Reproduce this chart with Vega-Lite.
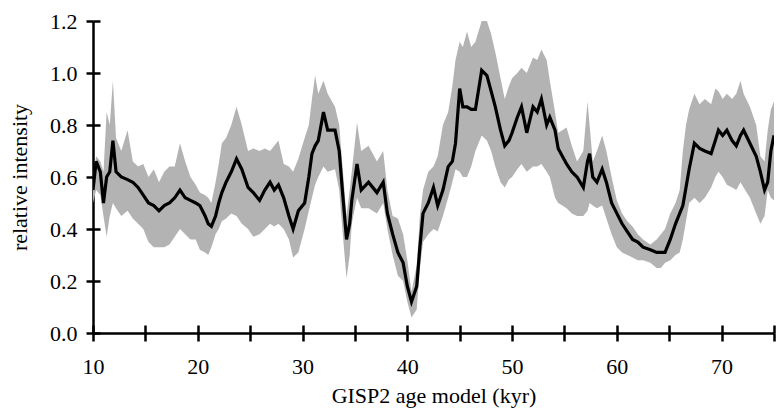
{
  "$schema": "https://vega.github.io/schema/vega-lite/v6.json",
  "width": 681,
  "height": 312,
  "autosize": "none",
  "padding": {"left": 93, "top": 21, "right": 3, "bottom": 76},
  "background": "white",
  "config": {
    "view": {"stroke": null},
    "font": "Liberation Serif",
    "axis": {
      "domainColor": "black", "domainWidth": 2.5, "tickColor": "black", "tickWidth": 2.5,
      "labelFont": "Liberation Serif", "titleFont": "Liberation Serif",
      "labelColor": "black", "titleColor": "black", "grid": false
    }
  },
  "resolve": {"axis": {"x": "independent", "y": "independent"}},
  "data": {"values": [
    {"x":10.0,"y":0.55,"lo":0.50,"hi":0.60},
    {"x":10.3,"y":0.66,"lo":0.55,"hi":0.68},
    {"x":10.7,"y":0.62,"lo":0.53,"hi":0.66},
    {"x":11.0,"y":0.50,"lo":0.45,"hi":0.62},
    {"x":11.3,"y":0.60,"lo":0.37,"hi":0.85},
    {"x":11.6,"y":0.62,"lo":0.45,"hi":0.80},
    {"x":11.9,"y":0.74,"lo":0.50,"hi":0.97},
    {"x":12.2,"y":0.62,"lo":0.48,"hi":0.75},
    {"x":12.7,"y":0.60,"lo":0.45,"hi":0.70},
    {"x":13.3,"y":0.59,"lo":0.47,"hi":0.78},
    {"x":13.8,"y":0.58,"lo":0.44,"hi":0.66},
    {"x":14.3,"y":0.56,"lo":0.42,"hi":0.64},
    {"x":14.8,"y":0.53,"lo":0.40,"hi":0.65},
    {"x":15.3,"y":0.50,"lo":0.35,"hi":0.60},
    {"x":15.8,"y":0.49,"lo":0.33,"hi":0.63},
    {"x":16.3,"y":0.47,"lo":0.33,"hi":0.58},
    {"x":16.8,"y":0.49,"lo":0.33,"hi":0.62},
    {"x":17.3,"y":0.50,"lo":0.34,"hi":0.64},
    {"x":17.8,"y":0.52,"lo":0.37,"hi":0.64},
    {"x":18.3,"y":0.55,"lo":0.40,"hi":0.73},
    {"x":18.8,"y":0.52,"lo":0.38,"hi":0.66},
    {"x":19.3,"y":0.51,"lo":0.36,"hi":0.60},
    {"x":19.8,"y":0.50,"lo":0.36,"hi":0.57},
    {"x":20.2,"y":0.49,"lo":0.32,"hi":0.54},
    {"x":20.7,"y":0.45,"lo":0.31,"hi":0.53},
    {"x":21.0,"y":0.42,"lo":0.30,"hi":0.52},
    {"x":21.3,"y":0.41,"lo":0.33,"hi":0.50},
    {"x":21.7,"y":0.45,"lo":0.38,"hi":0.58},
    {"x":22.0,"y":0.50,"lo":0.40,"hi":0.65},
    {"x":22.3,"y":0.54,"lo":0.43,"hi":0.73},
    {"x":22.7,"y":0.58,"lo":0.44,"hi":0.75},
    {"x":23.2,"y":0.62,"lo":0.46,"hi":0.80},
    {"x":23.7,"y":0.67,"lo":0.45,"hi":0.87},
    {"x":24.2,"y":0.63,"lo":0.42,"hi":0.80},
    {"x":24.8,"y":0.56,"lo":0.40,"hi":0.70},
    {"x":25.3,"y":0.54,"lo":0.37,"hi":0.71},
    {"x":25.9,"y":0.51,"lo":0.38,"hi":0.70},
    {"x":26.4,"y":0.55,"lo":0.40,"hi":0.71},
    {"x":26.9,"y":0.58,"lo":0.42,"hi":0.70},
    {"x":27.3,"y":0.55,"lo":0.41,"hi":0.72},
    {"x":27.7,"y":0.57,"lo":0.42,"hi":0.74},
    {"x":28.2,"y":0.52,"lo":0.40,"hi":0.65},
    {"x":28.7,"y":0.45,"lo":0.36,"hi":0.64},
    {"x":29.1,"y":0.40,"lo":0.29,"hi":0.62},
    {"x":29.6,"y":0.47,"lo":0.31,"hi":0.67},
    {"x":30.2,"y":0.50,"lo":0.40,"hi":0.75},
    {"x":30.6,"y":0.60,"lo":0.47,"hi":0.80},
    {"x":30.9,"y":0.69,"lo":0.52,"hi":0.90},
    {"x":31.2,"y":0.72,"lo":0.57,"hi":0.99},
    {"x":31.5,"y":0.74,"lo":0.60,"hi":0.92},
    {"x":32.0,"y":0.85,"lo":0.64,"hi":0.97},
    {"x":32.4,"y":0.78,"lo":0.62,"hi":0.92},
    {"x":33.1,"y":0.78,"lo":0.63,"hi":0.87},
    {"x":33.5,"y":0.70,"lo":0.55,"hi":0.80},
    {"x":33.8,"y":0.55,"lo":0.40,"hi":0.65},
    {"x":34.2,"y":0.36,"lo":0.21,"hi":0.45},
    {"x":34.5,"y":0.42,"lo":0.30,"hi":0.55},
    {"x":34.7,"y":0.51,"lo":0.42,"hi":0.62},
    {"x":35.2,"y":0.65,"lo":0.52,"hi":0.81},
    {"x":35.6,"y":0.55,"lo":0.48,"hi":0.70},
    {"x":36.3,"y":0.58,"lo":0.48,"hi":0.72},
    {"x":37.1,"y":0.54,"lo":0.46,"hi":0.66},
    {"x":37.7,"y":0.58,"lo":0.50,"hi":0.70},
    {"x":38.1,"y":0.46,"lo":0.40,"hi":0.55},
    {"x":38.6,"y":0.38,"lo":0.30,"hi":0.45},
    {"x":39.1,"y":0.31,"lo":0.22,"hi":0.44},
    {"x":39.6,"y":0.27,"lo":0.20,"hi":0.38},
    {"x":40.0,"y":0.18,"lo":0.12,"hi":0.28},
    {"x":40.4,"y":0.12,"lo":0.06,"hi":0.16},
    {"x":40.9,"y":0.18,"lo":0.09,"hi":0.26},
    {"x":41.2,"y":0.33,"lo":0.25,"hi":0.45},
    {"x":41.5,"y":0.46,"lo":0.35,"hi":0.55},
    {"x":42.0,"y":0.50,"lo":0.38,"hi":0.62},
    {"x":42.5,"y":0.56,"lo":0.40,"hi":0.64},
    {"x":42.9,"y":0.49,"lo":0.39,"hi":0.68},
    {"x":43.4,"y":0.55,"lo":0.45,"hi":0.80},
    {"x":43.9,"y":0.64,"lo":0.52,"hi":0.85},
    {"x":44.3,"y":0.66,"lo":0.58,"hi":0.95},
    {"x":44.6,"y":0.73,"lo":0.63,"hi":1.05},
    {"x":45.0,"y":0.94,"lo":0.62,"hi":1.12},
    {"x":45.3,"y":0.87,"lo":0.60,"hi":1.10},
    {"x":45.7,"y":0.87,"lo":0.60,"hi":1.16},
    {"x":46.1,"y":0.86,"lo":0.64,"hi":1.10},
    {"x":46.5,"y":0.86,"lo":0.70,"hi":1.12},
    {"x":47.1,"y":1.01,"lo":0.76,"hi":1.20},
    {"x":47.6,"y":0.99,"lo":0.74,"hi":1.20},
    {"x":48.0,"y":0.93,"lo":0.70,"hi":1.15},
    {"x":48.4,"y":0.87,"lo":0.64,"hi":1.08},
    {"x":48.9,"y":0.78,"lo":0.58,"hi":0.98},
    {"x":49.3,"y":0.72,"lo":0.56,"hi":0.90},
    {"x":49.7,"y":0.74,"lo":0.59,"hi":0.95},
    {"x":50.0,"y":0.77,"lo":0.60,"hi":0.98},
    {"x":50.5,"y":0.83,"lo":0.63,"hi":1.00},
    {"x":50.9,"y":0.87,"lo":0.65,"hi":1.02},
    {"x":51.4,"y":0.77,"lo":0.62,"hi":1.00},
    {"x":52.0,"y":0.87,"lo":0.64,"hi":1.06},
    {"x":52.4,"y":0.85,"lo":0.64,"hi":1.05},
    {"x":52.8,"y":0.90,"lo":0.65,"hi":1.09},
    {"x":53.3,"y":0.80,"lo":0.62,"hi":1.05},
    {"x":53.6,"y":0.83,"lo":0.60,"hi":0.97},
    {"x":54.1,"y":0.78,"lo":0.52,"hi":0.85},
    {"x":54.4,"y":0.71,"lo":0.50,"hi":0.77},
    {"x":54.8,"y":0.68,"lo":0.49,"hi":0.78},
    {"x":55.2,"y":0.65,"lo":0.48,"hi":0.79},
    {"x":55.7,"y":0.62,"lo":0.46,"hi":0.72},
    {"x":56.2,"y":0.60,"lo":0.45,"hi":0.66},
    {"x":56.8,"y":0.56,"lo":0.45,"hi":0.70},
    {"x":57.2,"y":0.66,"lo":0.47,"hi":0.89},
    {"x":57.4,"y":0.69,"lo":0.50,"hi":0.80},
    {"x":57.7,"y":0.60,"lo":0.49,"hi":0.66},
    {"x":58.1,"y":0.58,"lo":0.48,"hi":0.70},
    {"x":58.6,"y":0.63,"lo":0.49,"hi":0.76},
    {"x":59.0,"y":0.58,"lo":0.44,"hi":0.70},
    {"x":59.5,"y":0.50,"lo":0.38,"hi":0.60},
    {"x":60.0,"y":0.46,"lo":0.33,"hi":0.51},
    {"x":60.5,"y":0.42,"lo":0.31,"hi":0.46},
    {"x":61.0,"y":0.39,"lo":0.30,"hi":0.43},
    {"x":61.5,"y":0.36,"lo":0.29,"hi":0.41},
    {"x":62.0,"y":0.35,"lo":0.28,"hi":0.38},
    {"x":62.5,"y":0.33,"lo":0.28,"hi":0.36},
    {"x":63.2,"y":0.32,"lo":0.27,"hi":0.34},
    {"x":63.8,"y":0.31,"lo":0.25,"hi":0.36},
    {"x":64.2,"y":0.31,"lo":0.25,"hi":0.38},
    {"x":64.6,"y":0.31,"lo":0.27,"hi":0.40},
    {"x":65.1,"y":0.36,"lo":0.28,"hi":0.46},
    {"x":65.6,"y":0.42,"lo":0.30,"hi":0.50},
    {"x":66.0,"y":0.46,"lo":0.31,"hi":0.55},
    {"x":66.3,"y":0.49,"lo":0.36,"hi":0.70},
    {"x":66.6,"y":0.56,"lo":0.43,"hi":0.80},
    {"x":66.9,"y":0.63,"lo":0.50,"hi":0.86},
    {"x":67.4,"y":0.73,"lo":0.52,"hi":0.92},
    {"x":67.9,"y":0.71,"lo":0.50,"hi":0.88},
    {"x":68.4,"y":0.70,"lo":0.52,"hi":0.90},
    {"x":69.0,"y":0.69,"lo":0.56,"hi":0.88},
    {"x":69.4,"y":0.74,"lo":0.60,"hi":0.94},
    {"x":69.7,"y":0.78,"lo":0.62,"hi":0.93},
    {"x":70.1,"y":0.76,"lo":0.60,"hi":0.90},
    {"x":70.5,"y":0.78,"lo":0.57,"hi":0.92},
    {"x":71.0,"y":0.74,"lo":0.56,"hi":0.90},
    {"x":71.4,"y":0.72,"lo":0.55,"hi":0.92},
    {"x":71.8,"y":0.76,"lo":0.58,"hi":0.97},
    {"x":72.1,"y":0.78,"lo":0.56,"hi":0.92},
    {"x":72.7,"y":0.73,"lo":0.52,"hi":0.87},
    {"x":73.3,"y":0.68,"lo":0.46,"hi":0.80},
    {"x":73.7,"y":0.62,"lo":0.42,"hi":0.68},
    {"x":74.1,"y":0.55,"lo":0.45,"hi":0.66},
    {"x":74.4,"y":0.58,"lo":0.55,"hi":0.78},
    {"x":74.7,"y":0.70,"lo":0.52,"hi":0.86},
    {"x":75.0,"y":0.76,"lo":0.51,"hi":0.89}
  ]},
  "layer": [
    {
      "mark": {"type": "area", "color": "#b3b3b3", "clip": true},
      "encoding": {
        "x": {
          "field": "x", "type": "quantitative",
          "scale": {"domain": [10, 75], "nice": false, "zero": false},
          "axis": {
            "orient": "bottom",
            "title": "GISP2 age model (kyr)", "titleFontSize": 22, "titleFontWeight": "normal", "titlePadding": 8,
            "values": [10,15,20,25,30,35,40,45,50,55,60,65,70,75],
            "labelExpr": "datum.value % 10 == 0 ? datum.label : ''",
            "labelFontSize": 22, "labelPadding": 15, "tickSize": 8, "labelFlush": false
          }
        },
        "y": {"field": "lo", "type": "quantitative",
          "scale": {"domain": [0, 1.2], "nice": false},
          "axis": {
            "orient": "left",
            "title": "relative intensity", "titleFontSize": 22, "titleFontWeight": "normal", "titlePadding": 18,
            "values": [0, 0.2, 0.4, 0.6, 0.8, 1.0, 1.2], "format": ".1f",
            "labelFontSize": 22, "labelPadding": 9, "tickSize": 7
          }
        },
        "y2": {"field": "hi"}
      }
    },
    {
      "mark": {"type": "line", "color": "black", "strokeWidth": 3.2, "clip": true},
      "encoding": {
        "x": {
          "field": "x", "type": "quantitative",
          "axis": {
            "orient": "bottom", "title": null, "labels": false, "domain": false,
            "values": [10,15,20,25,30,35,40,45,50,55,60,65,70,75],
            "tickSize": -8
          }
        },
        "y": {"field": "y", "type": "quantitative",
          "axis": {
            "orient": "left", "title": null, "labels": false, "domain": false,
            "values": [0, 0.2, 0.4, 0.6, 0.8, 1.0, 1.2],
            "tickSize": -7
          }
        }
      }
    }
  ]
}
